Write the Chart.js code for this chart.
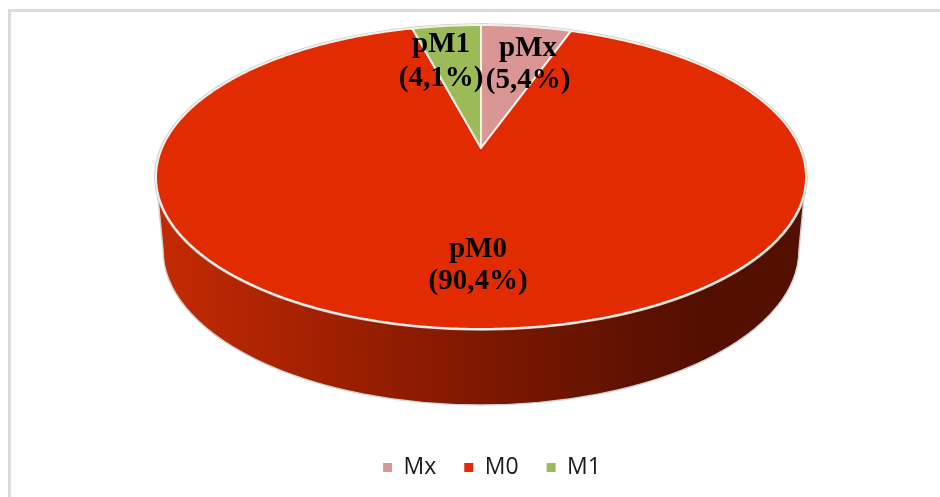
<!DOCTYPE html>
<html>
<head>
<meta charset="utf-8">
<style>
  html, body { margin: 0; padding: 0; background: #fff; }
  #wrap { position: relative; width: 940px; height: 497px; overflow: hidden; }
  #frame { position: absolute; left: 8px; top: 9px; right: -10px; bottom: -10px; border: 3px solid #dcdcdc; }
  canvas { position: absolute; left: 0; top: 0; }
</style>
<script src="https://cdn.jsdelivr.net/npm/chart.js@4/dist/chart.umd.js"></script>
</head>
<body>
<div id="wrap">
  <div id="frame"></div>
  <canvas id="chart" width="940" height="497"></canvas>
</div>
<script>
const categories = ["Mx", "M0", "M1"];
const stageNames = ["pMx", "pM0", "pM1"];
const percents = [5.4, 90.4, 4.1];
const sliceColors = ["#d99694", "#e32b02", "#9bbb59"];

// tilted disc: maps the unit circle to the top face of the pie
const CX = 481, APEX_Y = 148, FAR_Y = 25, NEAR_Y = 329, HALF_WIDTH = 325;
const tilt = (NEAR_Y + FAR_Y - 2 * APEX_Y) / (NEAR_Y - FAR_Y);
const lift = FAR_Y * (1 + tilt) - APEX_Y;
const spread = HALF_WIDTH * Math.sqrt(1 - tilt * tilt);

function project(angle, r) {
  const u = r * Math.cos(angle);
  const v = -r * Math.sin(angle);
  const w = 1 + tilt * v;
  return { x: CX + spread * u / w, y: (APEX_Y + lift * v) / w };
}

class TiltedArc extends Chart.ArcElement {
  static id = "tiltedArc";

  draw(ctx) {
    const { startAngle, endAngle, options } = this;
    ctx.save();
    ctx.beginPath();
    const apex = project(0, 0);
    ctx.moveTo(apex.x, apex.y);
    const steps = Math.max(8, Math.ceil((endAngle - startAngle) * 90));
    for (let i = 0; i <= steps; i++) {
      const p = project(startAngle + (endAngle - startAngle) * i / steps, 1);
      ctx.lineTo(p.x, p.y);
    }
    ctx.closePath();
    ctx.fillStyle = options.backgroundColor;
    ctx.fill();
    ctx.lineJoin = "round";
    ctx.lineWidth = options.borderWidth;
    ctx.strokeStyle = options.borderColor;
    ctx.stroke();
    ctx.restore();
  }
}

class TiltedPieController extends Chart.PieController {
  static id = "tiltedPie";
  static defaults = { ...Chart.PieController.defaults, dataElementType: "tiltedArc" };
}

Chart.register(TiltedArc, TiltedPieController);

// side wall and grey outline, painted under the slices
const pieSide = {
  id: "pieSide",
  beforeDatasetsDraw(chart) {
    const ctx = chart.ctx;
    const midY = (FAR_Y + NEAR_Y) / 2;
    const ry = (NEAR_Y - FAR_Y) / 2;
    const shade = ctx.createLinearGradient(160, 0, 800, 0);
    shade.addColorStop(0, "#c42a04");
    shade.addColorStop(0.38, "#8f1c00");
    shade.addColorStop(0.68, "#661300");
    shade.addColorStop(0.85, "#530f00");
    shade.addColorStop(1, "#530f00");

    ctx.save();
    ctx.beginPath();
    ctx.ellipse(CX, midY, HALF_WIDTH, ry, 0, 0, Math.PI);
    ctx.lineTo(163, 250);
    ctx.ellipse(CX, 250, 318, 155, 0, Math.PI, 0, true);
    ctx.closePath();
    ctx.fillStyle = shade;
    ctx.fill();
    ctx.lineWidth = 1.5;
    ctx.strokeStyle = "#d4d4d4";
    ctx.stroke();

    ctx.beginPath();
    ctx.ellipse(CX, midY, HALF_WIDTH + 0.5, ry + 0.5, 0, 0, 2 * Math.PI);
    ctx.lineWidth = 2.5;
    ctx.strokeStyle = "#c8c8c8";
    ctx.stroke();
    ctx.restore();
  }
};

// stage name and share written on the slices
const labelSpots = [
  { x: 528, y: 56, y2: 88 },
  { x: 478, y: 257, y2: 289 },
  { x: 441, y: 52, y2: 86 }
];
const pieLabels = {
  id: "pieLabels",
  afterDatasetsDraw(chart) {
    const ctx = chart.ctx;
    ctx.save();
    ctx.font = "bold 29px 'Liberation Serif'";
    ctx.fillStyle = "#000";
    ctx.textAlign = "center";
    ctx.textBaseline = "alphabetic";
    stageNames.forEach((name, i) => {
      const share = "(" + percents[i].toFixed(1).replace(".", ",") + "%)";
      ctx.fillText(name, labelSpots[i].x, labelSpots[i].y);
      ctx.fillText(share, labelSpots[i].x, labelSpots[i].y2);
    });
    ctx.restore();
  }
};

new Chart(document.getElementById("chart"), {
  type: "tiltedPie",
  data: {
    labels: categories,
    datasets: [
      {
        data: percents,
        backgroundColor: sliceColors,
        borderColor: "#f4f0ec",
        borderWidth: 2,
      },
    ],
  },
  options: {
    responsive: false,
    maintainAspectRatio: false,
    animation: false,
    layout: { padding: { left: 44, bottom: 8 } },
    plugins: {
      legend: {
        position: "bottom",
        labels: {
          usePointStyle: true,
          pointStyle: "rect",
          boxWidth: 9,
          boxHeight: 9,
          padding: 28,
          color: "#1a1a1a",
          font: { family: "'Open Sans'", size: 23 },
          generateLabels(chart) {
            const items = Chart.overrides.pie.plugins.legend.labels.generateLabels(chart);
            return items.map((item) => ({ ...item, lineWidth: 0 }));
          },
        },
      },
      tooltip: { enabled: false },
    },
  },
  plugins: [pieSide, pieLabels],
});
</script>
</body>
</html>
